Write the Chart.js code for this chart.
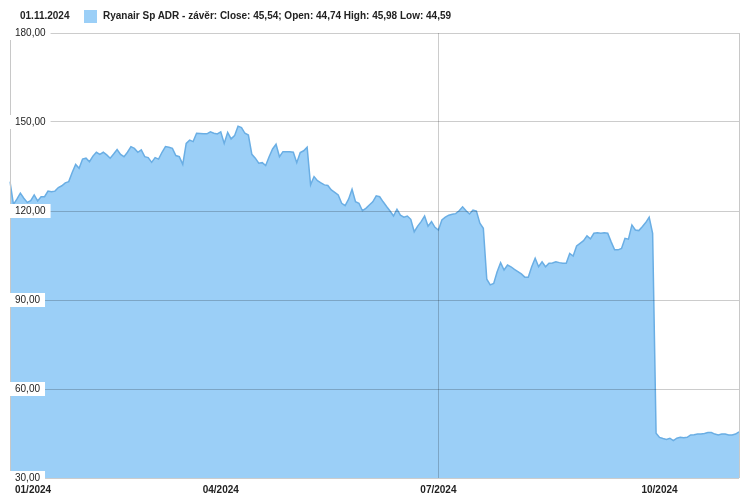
<!DOCTYPE html>
<html><head><meta charset="utf-8">
<script src="https://cdn.jsdelivr.net/npm/chart.js@4.4.1/dist/chart.umd.min.js"></script>
<style>
html,body{margin:0;padding:0;background:#fff;}
#wrap{position:relative;width:747px;height:502px;overflow:hidden;}
#hdr{position:absolute;left:0;top:0;width:747px;height:30px;font:bold 10px "Liberation Sans",Arial,sans-serif;color:#222;line-height:12px;z-index:2;}
#date{position:absolute;left:20px;top:10px;}
#sw{position:absolute;left:84px;top:10px;width:13px;height:13px;}
#lbl{position:absolute;left:103px;top:10px;white-space:nowrap;}
canvas{position:absolute;left:0;top:0;}
</style></head>
<body>
<div id="wrap">
  <div id="hdr"><span id="date"></span><span id="sw"></span><span id="lbl"></span></div>
  <canvas id="c" width="747" height="502"></canvas>
</div>
<script>
// ---- data ----
const seriesName = "Ryanair Sp ADR - závěr";
const lastDate = "01.11.2024";
const lastOHLC = [45.54, 44.74, 45.98, 44.59]; // close, open, high, low
const dates = [
"02.01.2024","03.01.2024","04.01.2024","05.01.2024","08.01.2024","09.01.2024","10.01.2024","11.01.2024","12.01.2024","16.01.2024","17.01.2024","18.01.2024","19.01.2024","22.01.2024","23.01.2024","24.01.2024","25.01.2024","26.01.2024","29.01.2024","30.01.2024","31.01.2024",
"01.02.2024","02.02.2024","05.02.2024","06.02.2024","07.02.2024","08.02.2024","09.02.2024","12.02.2024","13.02.2024","14.02.2024","15.02.2024","16.02.2024","20.02.2024","21.02.2024","22.02.2024","23.02.2024","26.02.2024","27.02.2024","28.02.2024","29.02.2024",
"01.03.2024","04.03.2024","05.03.2024","06.03.2024","07.03.2024","08.03.2024","11.03.2024","12.03.2024","13.03.2024","14.03.2024","15.03.2024","18.03.2024","19.03.2024","20.03.2024","21.03.2024","22.03.2024","25.03.2024","26.03.2024","27.03.2024","28.03.2024",
"01.04.2024","02.04.2024","03.04.2024","04.04.2024","05.04.2024","08.04.2024","09.04.2024","10.04.2024","11.04.2024","12.04.2024","15.04.2024","16.04.2024","17.04.2024","18.04.2024","19.04.2024","22.04.2024","23.04.2024","24.04.2024","25.04.2024","26.04.2024","29.04.2024","30.04.2024",
"01.05.2024","02.05.2024","03.05.2024","06.05.2024","07.05.2024","08.05.2024","09.05.2024","10.05.2024","13.05.2024","14.05.2024","15.05.2024","16.05.2024","17.05.2024","20.05.2024","21.05.2024","22.05.2024","23.05.2024","24.05.2024","28.05.2024","29.05.2024","30.05.2024","31.05.2024",
"03.06.2024","04.06.2024","05.06.2024","06.06.2024","07.06.2024","10.06.2024","11.06.2024","12.06.2024","13.06.2024","14.06.2024","17.06.2024","18.06.2024","20.06.2024","21.06.2024","24.06.2024","25.06.2024","26.06.2024","27.06.2024","28.06.2024",
"01.07.2024","02.07.2024","03.07.2024","05.07.2024","08.07.2024","09.07.2024","10.07.2024","11.07.2024","12.07.2024","15.07.2024","16.07.2024","17.07.2024","18.07.2024","19.07.2024","22.07.2024","23.07.2024","24.07.2024","25.07.2024","26.07.2024","29.07.2024","30.07.2024","31.07.2024",
"01.08.2024","02.08.2024","05.08.2024","06.08.2024","07.08.2024","08.08.2024","09.08.2024","12.08.2024","13.08.2024","14.08.2024","15.08.2024","16.08.2024","19.08.2024","20.08.2024","21.08.2024","22.08.2024","23.08.2024","26.08.2024","27.08.2024","28.08.2024","29.08.2024","30.08.2024",
"03.09.2024","04.09.2024","05.09.2024","06.09.2024","09.09.2024","10.09.2024","11.09.2024","12.09.2024","13.09.2024","16.09.2024","17.09.2024","18.09.2024","19.09.2024","20.09.2024","23.09.2024","24.09.2024","25.09.2024","26.09.2024","27.09.2024","30.09.2024",
"01.10.2024","02.10.2024","03.10.2024","04.10.2024","07.10.2024","08.10.2024","09.10.2024","10.10.2024","11.10.2024","14.10.2024","15.10.2024","16.10.2024","17.10.2024","18.10.2024","21.10.2024","22.10.2024","23.10.2024","24.10.2024","25.10.2024","28.10.2024","29.10.2024","30.10.2024","31.10.2024",
"01.11.2024"
];
const closes = [
129.9,122.2,124.0,126.0,124.3,122.9,123.5,125.4,123.4,124.8,124.8,126.7,126.5,126.7,127.9,128.5,129.5,129.9,133.0,135.7,
134.4,137.5,137.8,136.6,138.5,139.8,139.1,139.8,138.9,137.8,139.2,140.7,139.1,138.3,139.8,141.7,141.1,139.8,140.6,138.3,
138.0,136.4,138.0,137.5,139.8,141.7,141.5,141.1,138.7,138.3,135.7,142.8,143.9,143.4,146.2,146.1,146.0,146.0,146.7,146.2,
146.0,146.7,142.8,146.5,144.3,145.4,148.6,148.1,146.2,145.6,139.1,137.8,136.1,136.3,135.3,138.3,140.9,142.5,138.3,140.0,
140.0,140.0,139.8,136.3,139.7,140.3,141.5,128.8,131.6,130.2,129.5,128.8,128.6,127.1,126.3,125.4,122.6,121.8,124.0,127.3,
123.1,122.6,120.1,120.9,122.0,123.1,125.1,124.8,123.1,121.5,120.0,118.3,120.6,118.6,117.9,118.3,117.2,113.0,114.9,116.4,
118.3,114.9,116.4,114.5,113.6,117.0,117.9,118.6,118.9,119.1,120.1,121.4,120.1,119.0,120.3,120.0,115.9,114.2,97.0,95.1,
95.6,99.5,102.6,100.1,101.8,101.2,100.3,99.6,98.8,97.7,97.7,101.2,104.1,101.2,102.9,101.2,102.4,102.5,102.9,102.6,
102.4,102.4,105.7,104.8,108.2,109.1,110.0,111.6,110.6,112.5,112.7,112.5,112.7,112.5,109.6,106.9,106.9,107.4,110.8,110.5,
115.3,113.6,113.4,114.7,116.1,117.9,112.5,45.1,43.7,43.3,43.0,43.4,42.6,43.4,43.7,43.6,43.7,44.5,44.6,44.8,
44.8,45.0,45.3,45.3,44.8,44.5,44.8,44.8,44.5,44.5,44.8,45.54
];
const yTicks = [30, 60, 90, 120, 150, 180];
const xTickLabels = ["01/2024", "04/2024", "07/2024", "10/2024"];
const xGridAt = ["07/2024"];

// ---- styles ----
const FILL = "#9bcff7";
const LINE = "#6aaee4";
const FONT = "'Liberation Sans', Arial, sans-serif";

const fmt = v => v.toFixed(2).replace('.', ',');
document.getElementById('date').textContent = lastDate;
document.getElementById('sw').style.background = FILL;
document.getElementById('lbl').textContent = seriesName + ": Close: " + fmt(lastOHLC[0]) + "; Open: " + fmt(lastOHLC[1]) + " High: " + fmt(lastOHLC[2]) + " Low: " + fmt(lastOHLC[3]);

function firstIndexOf(mmyyyy) {
  const suf = "." + mmyyyy.replace('/', '.');
  return dates.findIndex(d => d.endsWith(suf));
}
const xTickIdx = xTickLabels.map(firstIndexOf);
const xGridIdx = xGridAt.map(firstIndexOf);

const overlay = {
  id: 'overlay',
  afterDraw(chart) {
    const {ctx, chartArea, scales} = chart;
    ctx.save();
    // right border
    ctx.strokeStyle = '#c8c8c8';
    ctx.lineWidth = 1;
    ctx.beginPath();
    ctx.moveTo(Math.round(chartArea.right) + 0.5, chartArea.top);
    ctx.lineTo(Math.round(chartArea.right) + 0.5, chartArea.bottom);
    ctx.stroke();
    // x labels
    ctx.font = "bold 10px " + FONT;
    ctx.fillStyle = '#222';
    ctx.textBaseline = 'middle';
    ctx.textAlign = 'left';
    xTickLabels.forEach((t, k) => {
      const x = scales.x.getPixelForValue(xTickIdx[k]);
      const w = ctx.measureText(t).width;
      const left = Math.max(x - w / 2, chartArea.left + 5);
      ctx.fillText(t, left, chartArea.bottom + 12);
    });
    ctx.restore();
  }
};

new Chart(document.getElementById('c'), {
  type: 'line',
  data: {
    labels: dates,
    datasets: [{
      label: seriesName,
      data: closes,
      borderColor: LINE,
      backgroundColor: FILL,
      borderWidth: 1.5,
      fill: 'start',
      pointRadius: 0,
      tension: 0
    }]
  },
  options: {
    responsive: false,
    animation: false,
    layout: {padding: {left: 10, right: 8, top: 33, bottom: 24}},
    plugins: {legend: {display: false}, tooltip: {enabled: false}},
    scales: {
      x: {
        type: 'category',
        offset: false,
        ticks: {display: false, autoSkip: false},
        grid: {
          z: 1,
          drawTicks: false,
          color: c => xGridIdx.includes(c.index) ? 'rgba(0,0,0,0.2)' : 'rgba(0,0,0,0)',
          lineWidth: 1
        },
        border: {display: false}
      },
      y: {
        min: 30, max: 180,
        afterFit: s => { s.width = 0; },
        afterBuildTicks: s => { s.ticks = yTicks.map(v => ({value: v})); },
        ticks: {
          z: 2,
          mirror: true,
          padding: 5,
          callback: v => fmt(v),
          font: {family: FONT, size: 10},
          color: '#222',
          showLabelBackdrop: true,
          backdropColor: '#ffffff',
          backdropPadding: {x: 5, y: 1}
        },
        grid: {z: 1, drawTicks: false, color: 'rgba(0,0,0,0.2)'},
        border: {z: 1, display: true, color: '#c8c8c8'}
      }
    }
  },
  plugins: [overlay]
});
</script>
</body></html>
